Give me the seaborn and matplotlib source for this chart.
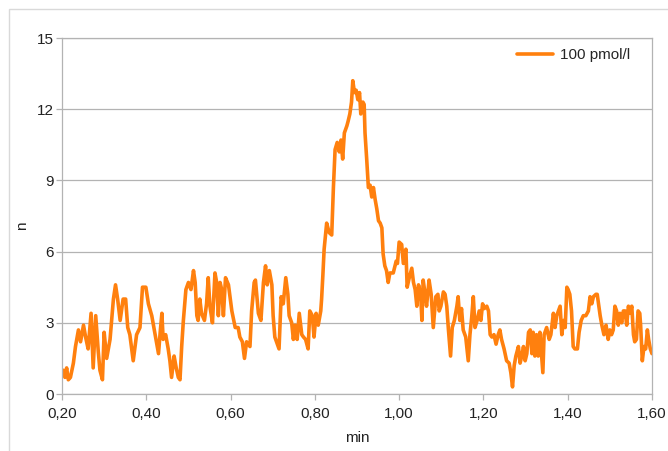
import numpy as np
import pandas as pd
import matplotlib
matplotlib.use("Agg")
import matplotlib.pyplot as plt
import seaborn as sns
from matplotlib.patches import Rectangle
from matplotlib.ticker import FuncFormatter

# ============================================================
# DATA
# ============================================================

SERIES_NAME = "100 pmol/l"

minutes = [
    0.203, 0.207, 0.211, 0.215, 0.220, 0.227, 0.232, 0.239, 0.244, 0.251,
    0.256, 0.262, 0.269, 0.274, 0.280, 0.286, 0.290, 0.296, 0.300, 0.306,
    0.314, 0.322, 0.327, 0.332, 0.338, 0.345, 0.351, 0.356, 0.361, 0.369,
    0.377, 0.385, 0.391, 0.399, 0.405, 0.413, 0.421, 0.429, 0.433, 0.437,
    0.440, 0.446, 0.452, 0.456, 0.460, 0.466, 0.471, 0.476, 0.480, 0.484,
    0.488, 0.494, 0.500, 0.506, 0.512, 0.516, 0.520, 0.523, 0.527, 0.531,
    0.538, 0.543, 0.547, 0.551, 0.557, 0.563, 0.567, 0.571, 0.575, 0.579,
    0.583, 0.588, 0.595, 0.603, 0.611, 0.618, 0.622, 0.628, 0.633, 0.638,
    0.646, 0.650, 0.656, 0.659, 0.662, 0.666, 0.672, 0.678, 0.683, 0.687,
    0.692, 0.698, 0.701, 0.705, 0.709, 0.715, 0.720, 0.725, 0.731, 0.736,
    0.739, 0.745, 0.749, 0.753, 0.758, 0.763, 0.769, 0.773, 0.778, 0.784,
    0.788, 0.794, 0.798, 0.803, 0.808, 0.814, 0.816, 0.819, 0.822, 0.828,
    0.834, 0.840, 0.844, 0.848, 0.853, 0.858, 0.862, 0.866, 0.870, 0.876,
    0.879, 0.883, 0.887, 0.890, 0.894, 0.898, 0.902, 0.906, 0.909, 0.914,
    0.917, 0.919, 0.923, 0.927, 0.931, 0.935, 0.939, 0.943, 0.947, 0.951,
    0.955, 0.959, 0.962, 0.966, 0.970, 0.974, 0.978, 0.986, 0.993, 0.996,
    1.000, 1.006, 1.010, 1.016, 1.019, 1.024, 1.030, 1.034, 1.038, 1.042,
    1.046, 1.051, 1.054, 1.057, 1.061, 1.065, 1.071, 1.076, 1.081, 1.087,
    1.092, 1.095, 1.099, 1.105, 1.109, 1.113, 1.117, 1.122, 1.126, 1.131,
    1.137, 1.140, 1.144, 1.148, 1.152, 1.158, 1.164, 1.168, 1.172, 1.176,
    1.180, 1.185, 1.190, 1.194, 1.198, 1.202, 1.208, 1.212, 1.216, 1.220,
    1.225, 1.230, 1.235, 1.239, 1.243, 1.249, 1.255, 1.261, 1.265, 1.269,
    1.273, 1.277, 1.283, 1.287, 1.291, 1.295, 1.299, 1.303, 1.307, 1.311,
    1.315, 1.318, 1.322, 1.326, 1.330, 1.334, 1.338, 1.341, 1.344, 1.350,
    1.356, 1.360, 1.366, 1.370, 1.374, 1.378, 1.382, 1.386, 1.390, 1.394,
    1.398, 1.401, 1.405, 1.409, 1.413, 1.417, 1.423, 1.427, 1.432, 1.437,
    1.443, 1.449, 1.453, 1.457, 1.461, 1.467, 1.470, 1.477, 1.481, 1.486,
    1.491, 1.496, 1.500, 1.504, 1.508, 1.512, 1.516, 1.520, 1.524, 1.528,
    1.532, 1.536, 1.540, 1.544, 1.548, 1.552, 1.556, 1.559, 1.563, 1.567,
    1.571, 1.573, 1.577, 1.581, 1.585, 1.589, 1.592, 1.596, 1.600,
]

counts = [
    1.0, 0.7, 1.1, 0.6, 0.7, 1.3, 2.0, 2.7, 2.2, 2.9,
    2.4, 1.9, 3.4, 1.1, 3.3, 1.8, 1.0, 0.6, 2.6, 1.5,
    2.3, 4.0, 4.6, 4.0, 3.1, 4.0, 4.0, 2.8, 2.5, 1.4,
    2.5, 2.8, 4.5, 4.5, 3.8, 3.3, 2.5, 1.7, 2.6, 3.4,
    2.3, 2.5, 1.9, 1.4, 0.7, 1.6, 1.1, 0.7, 0.6, 2.0,
    3.1, 4.4, 4.7, 4.4, 5.2, 4.7, 3.3, 3.1, 4.0, 3.4,
    3.1, 3.8, 4.9, 3.7, 3.0, 5.1, 4.7, 3.3, 4.7, 4.4,
    3.3, 4.9, 4.6, 3.5, 2.8, 2.8, 2.4, 2.2, 1.5, 2.2,
    2.0, 3.5, 4.7, 4.8, 4.2, 3.4, 3.1, 4.7, 5.4, 4.6,
    5.2, 4.6, 3.3, 2.4, 2.2, 1.9, 4.1, 3.8, 4.9, 4.2,
    3.3, 3.0, 2.3, 2.9, 2.3, 3.4, 2.5, 2.4, 2.3, 1.9,
    3.5, 3.3, 2.4, 3.4, 2.9, 3.5, 4.0, 5.0, 6.1, 7.2,
    6.8, 6.7, 8.7, 10.3, 10.6, 10.2, 10.7, 9.9, 11.0, 11.3,
    11.5, 11.8, 12.3, 13.2, 12.7, 12.8, 12.4, 12.7, 11.8, 12.3,
    12.2, 11.0, 9.9, 8.7, 8.8, 8.3, 8.7, 8.2, 7.8, 7.3,
    7.2, 7.0, 5.9, 5.4, 5.2, 4.7, 5.1, 5.1, 5.6, 5.5,
    6.4, 6.3, 5.5, 6.1, 4.5, 4.9, 5.3, 4.7, 4.4, 3.7,
    4.6, 4.2, 3.1, 4.8, 4.3, 3.7, 4.8, 4.2, 2.8, 4.1,
    4.2, 3.5, 3.7, 4.3, 4.2, 3.7, 2.7, 1.6, 2.8, 3.1,
    3.7, 4.1, 3.1, 3.6, 2.7, 2.4, 1.4, 2.5, 3.2, 4.1,
    2.8, 3.1, 3.5, 3.1, 3.8, 3.6, 3.7, 3.5, 2.5, 2.4,
    2.5, 2.1, 2.5, 2.7, 2.3, 1.9, 1.4, 1.3, 0.9, 0.3,
    1.2, 1.6, 2.0, 1.3, 1.6, 2.0, 1.4, 1.7, 2.6, 2.7,
    1.7, 2.6, 1.6, 2.5, 1.6, 2.6, 1.6, 0.9, 2.5, 2.8,
    2.3, 2.5, 3.4, 2.8, 3.3, 3.5, 3.7, 2.5, 3.1, 2.8,
    4.5, 4.4, 4.2, 3.5, 2.0, 1.9, 1.9, 2.6, 3.1, 3.3,
    3.3, 3.5, 4.1, 3.8, 4.1, 4.2, 4.2, 3.3, 2.9, 2.5,
    2.9, 2.3, 2.7, 2.5, 2.7, 3.7, 3.5, 2.9, 3.4, 3.0,
    3.5, 3.5, 2.9, 3.7, 3.4, 3.7, 2.5, 2.2, 2.3, 3.5,
    3.4, 2.9, 1.4, 2.0, 1.9, 2.7, 2.3, 1.9, 1.7,
]

x_ticks = [0.20, 0.40, 0.60, 0.80, 1.00, 1.20, 1.40, 1.60]
y_ticks = [0, 3, 6, 9, 12, 15]

# ============================================================
# STYLE
# ============================================================

sns.set_style("white")
plt.rcParams["font.family"] = ["Liberation Sans", "DejaVu Sans"]
plt.rcParams["font.size"] = 11

LINE_COLOR = "#ff800e"
GRID_COLOR = "#b3b3b3"
FRAME_COLOR = "#d9d9d9"
TEXT_COLOR = "#222222"

# ============================================================
# PLOT
# ============================================================

df = pd.DataFrame({"min": minutes, "n": counts})

fig = plt.figure(figsize=(6.68, 4.51), dpi=100)

ax = fig.add_axes([62 / 668, 1 - 394 / 451, 590 / 668, 356 / 451])

sns.lineplot(
    data=df,
    x="min",
    y="n",
    ax=ax,
    color=LINE_COLOR,
    lw=2.6,
    estimator=None,
    sort=False,
    label=SERIES_NAME,
)

ax.set_xlim(0.20, 1.60)
ax.set_ylim(0, 15)

ax.set_xticks(x_ticks)
ax.set_yticks(y_ticks)

ax.xaxis.set_major_formatter(
    FuncFormatter(lambda v, _: f"{v:.2f}".replace(".", ","))
)

ax.yaxis.grid(True, color=GRID_COLOR, lw=0.9)
ax.xaxis.grid(False)
ax.set_axisbelow(True)

for side in ["left", "bottom", "right", "top"]:
    ax.spines[side].set_visible(True)
    ax.spines[side].set_color(GRID_COLOR)
    ax.spines[side].set_linewidth(0.9)

ax.tick_params(
    axis="y",
    direction="out",
    length=4,
    width=0.9,
    color=GRID_COLOR,
    pad=2,
    labelsize=11,
    labelcolor=TEXT_COLOR,
    left=True,
)

ax.tick_params(
    axis="x",
    direction="out",
    length=4,
    width=0.9,
    color=GRID_COLOR,
    pad=5,
    labelsize=11,
    labelcolor=TEXT_COLOR,
    bottom=True,
)

ax.set_xlabel("min", fontsize=11, color=TEXT_COLOR)
ax.set_ylabel("n", fontsize=11, color=TEXT_COLOR)

ax.xaxis.set_label_coords(0.5, -0.105)
ax.yaxis.set_label_coords(-0.056, 0.472)

ax.legend(
    loc="center left",
    bbox_to_anchor=(0.771, 0.952),
    frameon=False,
    borderpad=0,
    borderaxespad=0,
    handlelength=2.35,
    handletextpad=0.45,
    fontsize=11,
)

# light outer frame of the chart object
fig.add_artist(
    Rectangle(
        (9 / 668, -0.2),
        1.2,
        1 - 9 / 451 + 0.2,
        transform=fig.transFigure,
        fill=False,
        edgecolor=FRAME_COLOR,
        lw=1,
    )
)

fig.savefig("out.png", dpi=100)
plt.close(fig)
